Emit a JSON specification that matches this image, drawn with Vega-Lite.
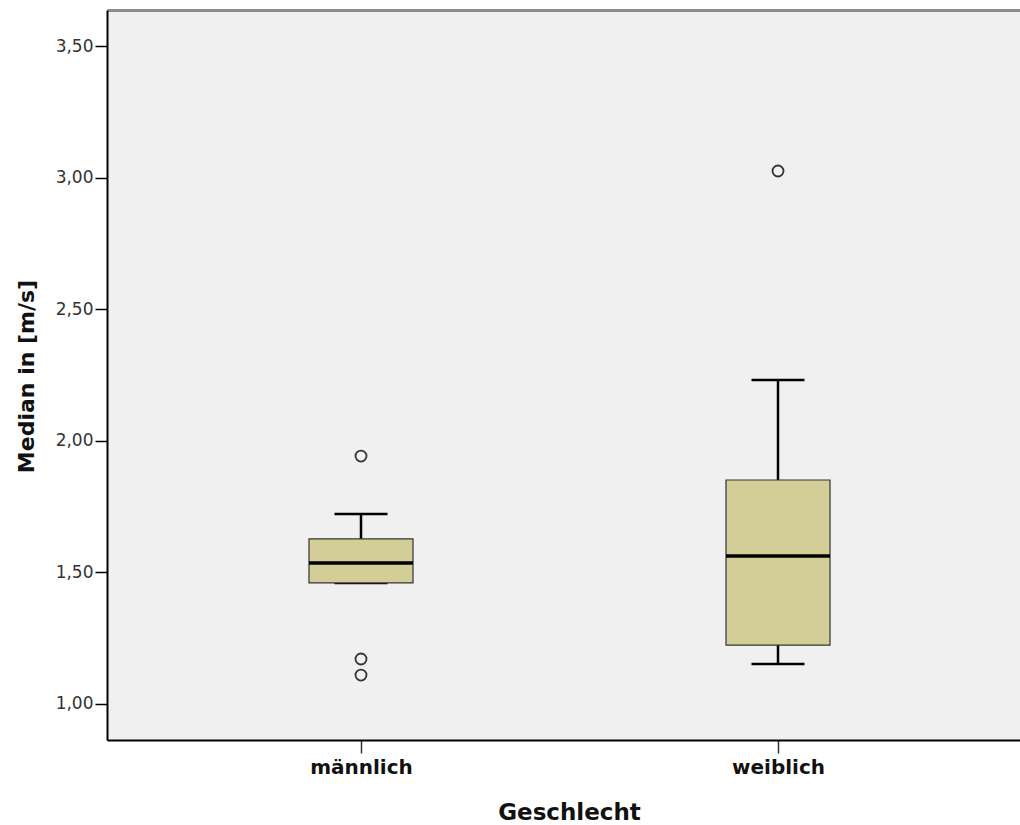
{
  "$schema": "https://vega.github.io/schema/vega-lite/v6.json",
  "width": 913,
  "height": 730,
  "autosize": {"type": "none"},
  "padding": {"left": 107, "top": 10, "right": 0, "bottom": 85},
  "background": "white",
  "config": {
    "view": {"fill": "#f0f0f0", "stroke": null},
    "axis": {"grid": false, "labelFont": "DejaVu Sans", "titleFont": "DejaVu Sans"}
  },
  "datasets": {
    "summary": [
      {"Geschlecht": "männlich", "lower": 1.46, "q1": 1.46, "median": 1.536, "q3": 1.627, "upper": 1.722},
      {"Geschlecht": "weiblich", "lower": 1.152, "q1": 1.224, "median": 1.562, "q3": 1.851, "upper": 2.231}
    ],
    "outliers": [
      {"Geschlecht": "männlich", "value": 1.942},
      {"Geschlecht": "männlich", "value": 1.171},
      {"Geschlecht": "männlich", "value": 1.11},
      {"Geschlecht": "weiblich", "value": 3.025}
    ]
  },
  "resolve": {"axis": {"x": "independent"}},
  "layer": [
    {
      "data": {"name": "summary"},
      "mark": {"type": "rule", "color": "black", "strokeWidth": 2.5, "opacity": 1},
      "encoding": {
        "x": {"field": "Geschlecht", "type": "nominal", "axis": null,
              "scale": {"type": "point", "domain": ["männlich", "weiblich"], "range": [0, 925], "padding": 0.6091}},
        "y": {"field": "q3", "type": "quantitative", "title": "Median in [m/s]",
              "scale": {"domain": [0.8632, 3.6368], "nice": false, "zero": false}},
        "y2": {"field": "upper"}
      }
    },
    {
      "data": {"name": "summary"},
      "mark": {"type": "rule", "color": "black", "strokeWidth": 2.5, "opacity": 1},
      "encoding": {
        "x": {"field": "Geschlecht", "type": "nominal", "axis": null},
        "y": {"field": "lower", "type": "quantitative", "title": "Median in [m/s]"},
        "y2": {"field": "q1"}
      }
    },
    {
      "data": {"name": "summary"},
      "mark": {"type": "tick", "color": "black", "size": 53, "thickness": 2.5, "orient": "horizontal", "opacity": 1},
      "encoding": {
        "x": {"field": "Geschlecht", "type": "nominal", "axis": null},
        "y": {"field": "upper", "type": "quantitative", "title": "Median in [m/s]"}
      }
    },
    {
      "data": {"name": "summary"},
      "mark": {"type": "tick", "color": "black", "size": 53, "thickness": 2.5, "orient": "horizontal", "opacity": 1},
      "encoding": {
        "x": {"field": "Geschlecht", "type": "nominal", "axis": null},
        "y": {"field": "lower", "type": "quantitative", "title": "Median in [m/s]"}
      }
    },
    {
      "data": {"name": "summary"},
      "mark": {"type": "bar", "size": 104, "fill": "#d3ce98", "stroke": "#333333", "strokeWidth": 1.2, "opacity": 1},
      "encoding": {
        "x": {"field": "Geschlecht", "type": "nominal",
              "axis": {"title": "Geschlecht", "labelAngle": 0, "domainColor": "black", "domainWidth": 2,
                       "tickColor": "#333333", "tickSize": 13, "tickWidth": 1.5,
                       "labelFontSize": 20, "labelFontWeight": "bold", "labelColor": "#111111", "labelPadding": 4,
                       "titleFontSize": 23, "titleFontWeight": "bold", "titleColor": "#111111",
                       "titleX": 462, "titleY": 79, "titleBaseline": "alphabetic"}},
        "y": {"field": "q1", "type": "quantitative", "title": "Median in [m/s]",
              "axis": {"values": [1, 1.5, 2, 2.5, 3, 3.5],
                       "labelExpr": "replace(format(datum.value, '.2f'), '.', ',')",
                       "domainColor": "black", "domainWidth": 2, "tickColor": "black", "tickWidth": 1.5,
                       "tickSize": 12, "labelPadding": 2, "labelFontSize": 17, "labelColor": "#333333",
                       "titleFontSize": 22, "titleFontWeight": "bold", "titleColor": "#111111",
                       "titleX": -81, "titleY": 366, "titleBaseline": "middle"}},
        "y2": {"field": "q3"}
      }
    },
    {
      "data": {"name": "summary"},
      "mark": {"type": "tick", "color": "black", "size": 104, "thickness": 3.5, "orient": "horizontal", "opacity": 1},
      "encoding": {
        "x": {"field": "Geschlecht", "type": "nominal", "axis": null},
        "y": {"field": "median", "type": "quantitative", "title": "Median in [m/s]"}
      }
    },
    {
      "data": {"name": "outliers"},
      "mark": {"type": "point", "shape": "circle", "filled": false, "size": 121, "stroke": "#333333", "strokeWidth": 1.8, "opacity": 1},
      "encoding": {
        "x": {"field": "Geschlecht", "type": "nominal",
              "axis": {"orient": "top", "labels": false, "ticks": false, "title": null,
                       "domainColor": "#8c8c8c", "domainWidth": 3}},
        "y": {"field": "value", "type": "quantitative", "title": "Median in [m/s]"}
      }
    }
  ]
}
